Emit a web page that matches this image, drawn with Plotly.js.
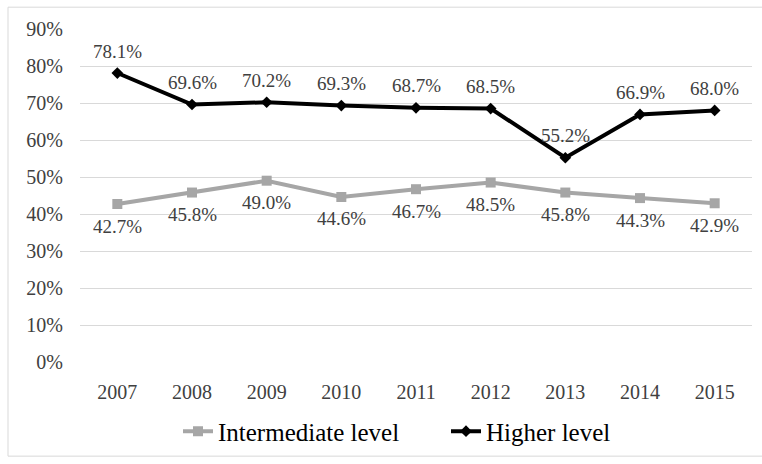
<!DOCTYPE html>
<html>
<head>
<meta charset="utf-8">
<script src="https://cdn.plot.ly/plotly-3.0.1.min.js"></script>
<style>html,body{margin:0;padding:0;background:#fff;}#chart{width:762px;height:464px;}</style>
</head>
<body>
<div id="chart"></div>
<script>
const years = ['2007','2008','2009','2010','2011','2012','2013','2014','2015'];
const intermediate = [0.427, 0.458, 0.490, 0.446, 0.467, 0.485, 0.458, 0.443, 0.429];
const higher = [0.781, 0.696, 0.702, 0.693, 0.687, 0.685, 0.552, 0.669, 0.680];
const yTicks = [0, 0.1, 0.2, 0.3, 0.4, 0.5, 0.6, 0.7, 0.8, 0.9];

const fontFam = 'Liberation Serif, Times New Roman, serif';
const fmt = v => (v * 100).toFixed(1) + '%';
const idx = years.map((_, i) => i);

const traces = [
  {
    x: idx, y: intermediate, name: 'Intermediate level', type: 'scatter', mode: 'lines+markers',
    line: {color: '#a6a6a6', width: 4},
    marker: {symbol: 'square', size: 10, color: '#a6a6a6'},
    legend: 'legend'
  },
  {
    x: idx, y: higher, name: 'Higher level', type: 'scatter', mode: 'lines+markers',
    line: {color: '#000000', width: 4},
    marker: {symbol: 'diamond', size: 9, color: '#000000'},
    legend: 'legend2'
  }
];

const annotations = [];
idx.forEach(i => {
  annotations.push({x: i, y: intermediate[i], text: fmt(intermediate[i]), showarrow: false,
    yshift: -22, font: {family: fontFam, size: 19, color: '#404040'}});
  annotations.push({x: i, y: higher[i], text: fmt(higher[i]), showarrow: false,
    yshift: 22, font: {family: fontFam, size: 19, color: '#404040'}});
});

const plotW = 672, plotH = 336, mL = 80, mT = 29;
const px = x => (x - mL) / plotW;
const py = y => (mT + plotH - y) / plotH;

const legendFont = {family: fontFam, size: 25, color: '#000000'};

const layout = {
  width: 762, height: 464,
  margin: {l: mL, r: 10, t: mT, b: 99},
  paper_bgcolor: '#ffffff', plot_bgcolor: '#ffffff',
  showlegend: true,
  legend: {orientation: 'h', x: px(178), xanchor: 'left', y: py(435), yanchor: 'middle',
    font: legendFont, bgcolor: 'rgba(0,0,0,0)'},
  legend2: {orientation: 'h', x: px(446), xanchor: 'left', y: py(435), yanchor: 'middle',
    font: legendFont, bgcolor: 'rgba(0,0,0,0)'},
  xaxis: {
    type: 'linear', range: [-0.5, years.length - 0.5], tickvals: idx, ticktext: years,
    showgrid: false, zeroline: false, showline: false, ticks: '',
    tickfont: {family: fontFam, size: 20, color: '#404040'}, ticklabelstandoff: 16
  },
  yaxis: {
    range: [0, 0.9], tickvals: yTicks, tickformat: '.0%',
    showgrid: true, gridcolor: '#d9d9d9', gridwidth: 1, zeroline: false, showline: false, ticks: '',
    tickfont: {family: fontFam, size: 20, color: '#404040'}, ticklabelstandoff: 16
  },
  annotations: annotations,
  shapes: [{type: 'rect', xref: 'paper', yref: 'paper', x0: px(8), x1: px(770), y0: py(460), y1: py(7),
    line: {color: '#d9d9d9', width: 1}, layer: 'below'}]
};

Plotly.newPlot('chart', traces, layout, {displayModeBar: false, staticPlot: true});
</script>
</body>
</html>
